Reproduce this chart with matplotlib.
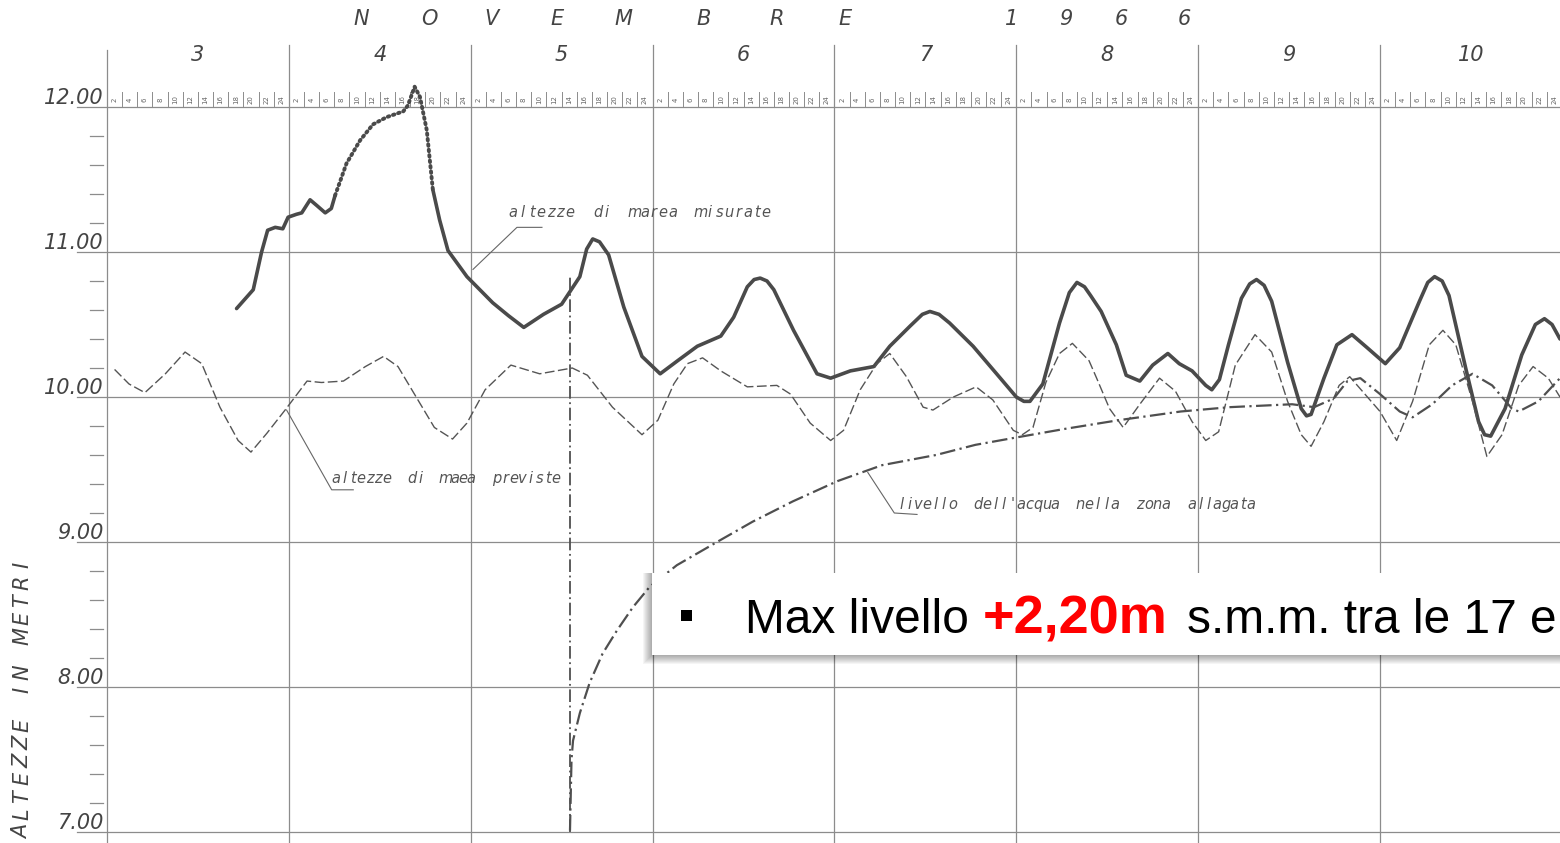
import numpy as np
import matplotlib.pyplot as plt
from matplotlib.patches import Rectangle

# asse x: ore a partire dalle 0 del 3 novembre 1966
days = [3, 4, 5, 6, 7, 8, 9, 10]
y_levels = [7, 8, 9, 10, 11, 12]
y_labels = ['7.00', '8.00', '9.00', '10.00', '11.00', '12.00']
month_letters = ['N', 'O', 'V', 'E', 'M', 'B', 'R', 'E', '1', '9', '6', '6']
month_pos = [33.6, 42.6, 50.8, 59.4, 68.1, 78.7, 88.4, 97.4, 119.4, 126.5, 133.9, 142.2]

# altezze di marea misurate
meas_hours = [17.1, 19.3, 20.4, 21.2, 22.2, 23.2, 23.9, 25.0, 25.7, 26.8, 27.7, 28.8, 29.6, 30.1,
              31.6, 33.4, 35.1, 36.9, 39.1, 39.7, 40.6, 41.3, 42.2, 43.0,
              43.9, 45.0, 47.5, 50.9, 53.0, 55.0, 57.6, 60.0, 62.4, 63.3, 64.1, 65.0, 66.2, 68.2, 70.6,
              73.0, 75.3, 77.9, 81.0, 82.7, 84.5, 85.4, 86.2, 87.1, 88.0, 90.6, 93.7, 95.5, 98.1, 101.2,
              103.3, 106.0, 107.6, 108.6, 109.8, 111.2, 114.3, 117.4, 120.0, 121.0, 121.8, 123.5, 125.7,
              127.0, 128.0, 129.0, 129.8, 131.2, 133.2, 134.5, 136.3, 138.0, 140.0, 141.5, 143.2, 145.0,
              145.8, 146.8, 148.0, 149.7, 150.8, 151.7, 152.7, 153.7, 155.8, 157.6, 158.3, 158.9, 160.6,
              162.3, 164.3, 166.3, 168.7, 170.6, 173.2, 174.3, 175.2, 176.2, 177.1, 179.3, 181.0, 181.8,
              182.6, 184.5, 186.7, 188.5, 189.7, 190.7, 191.75]
meas_level = [10.61, 10.74, 11.00, 11.15, 11.17, 11.16, 11.24, 11.26, 11.27, 11.36, 11.32, 11.27, 11.30, 11.39,
              11.61, 11.77, 11.88, 11.93, 11.97, 12.01, 12.14, 12.07, 11.84, 11.43,
              11.22, 11.01, 10.83, 10.65, 10.56, 10.48, 10.57, 10.64, 10.83, 11.02, 11.09, 11.07, 10.98, 10.62, 10.28,
              10.16, 10.25, 10.35, 10.42, 10.55, 10.76, 10.81, 10.82, 10.80, 10.74, 10.46, 10.16, 10.13, 10.18, 10.21,
              10.35, 10.49, 10.57, 10.59, 10.57, 10.51, 10.35, 10.16, 10.00, 9.97, 9.97, 10.09, 10.51,
              10.72, 10.79, 10.76, 10.70, 10.59, 10.36, 10.15, 10.11, 10.22, 10.30, 10.23, 10.18, 10.08,
              10.05, 10.12, 10.36, 10.68, 10.78, 10.81, 10.77, 10.66, 10.24, 9.92, 9.87, 9.88, 10.13,
              10.36, 10.43, 10.34, 10.23, 10.34, 10.66, 10.79, 10.83, 10.80, 10.70, 10.20, 9.83, 9.74,
              9.73, 9.92, 10.29, 10.50, 10.54, 10.50, 10.40]
dotted_from, dotted_to = 30.1, 43.0

# altezze di marea previste
pred_hours = [1.0, 2.9, 5.0, 7.7, 10.3, 12.5, 14.9, 17.3, 19.0, 21.1, 23.5, 26.4, 28.3, 31.2,
              34.1, 36.5, 38.4, 40.8, 43.2, 45.6, 47.5, 49.9, 53.3, 57.1, 61.4, 63.4, 66.7,
              70.6, 72.7, 74.8, 76.6, 78.6, 81.0, 84.5, 88.4, 90.2, 92.8, 95.5, 97.2, 99.4,
              101.6, 103.3, 105.5, 107.7, 109.0, 111.7, 114.7, 116.9, 119.6, 120.8, 122.2,
              123.9, 125.7, 127.4, 129.6, 130.6, 132.3, 134.1, 136.3, 138.9, 141.0, 143.2,
              145.0, 146.7, 148.9, 151.5, 153.7, 155.8, 157.6, 158.9, 160.6, 162.6, 164.0,
              168.0, 170.2, 172.3, 174.5, 176.3, 178.0, 180.2, 182.1, 184.1, 186.3, 188.2,
              190.2, 191.75]
pred_level = [10.19, 10.09, 10.03, 10.16, 10.31, 10.23, 9.93, 9.70, 9.62, 9.75, 9.91, 10.11, 10.10, 10.11,
              10.21, 10.28, 10.21, 10.00, 9.79, 9.71, 9.82, 10.05, 10.22, 10.16, 10.20, 10.15, 9.93,
              9.74, 9.84, 10.09, 10.23, 10.27, 10.18, 10.07, 10.08, 10.02, 9.82, 9.70, 9.77, 10.05,
              10.23, 10.30, 10.14, 9.93, 9.91, 10.00, 10.07, 9.98, 9.77, 9.74, 9.79,
              10.10, 10.30, 10.37, 10.25, 10.13, 9.92, 9.79, 9.95, 10.13, 10.04, 9.83,
              9.70, 9.76, 10.22, 10.43, 10.31, 9.97, 9.74, 9.66, 9.83, 10.08, 10.14,
              9.90, 9.70, 9.97, 10.36, 10.46, 10.36, 9.97, 9.59, 9.74, 10.08, 10.21,
              10.13, 10.00]

# livello dell'acqua nella zona allagata
flood_hours = [61.1, 61.3, 61.5, 62.4, 63.7, 65.4, 67.3, 69.4, 71.6, 75.2, 80.5, 85.2, 90.5,
               96.4, 102.3, 109.4, 114.6, 119.9, 126.4, 133.5, 141.7, 148.2, 156.4, 159.3,
               161.9, 163.7, 165.4, 168.0, 170.6, 172.3, 174.9, 177.5, 180.2, 182.8, 185.4,
               186.3, 188.9, 191.75]
flood_level = [7.01, 7.50, 7.63, 7.82, 8.03, 8.23, 8.39, 8.55, 8.69, 8.84, 9.00, 9.14, 9.28,
               9.42, 9.53, 9.60, 9.67, 9.72, 9.78, 9.84, 9.90, 9.93, 9.95, 9.93,
               9.99, 10.11, 10.13, 10.02, 9.90, 9.86, 9.95, 10.08, 10.16, 10.08, 9.92,
               9.90, 9.97, 10.13]
breach_hour = 61.1
breach_level = [7.0, 10.83]

W, H = 1560, 843
fig = plt.figure(figsize=(W / 100, H / 100), dpi=100)
ax = fig.add_axes([107 / W, 0, (W - 107) / W, (H - 107) / H])
ax.set_xlim(0, 191.75)
ax.set_ylim(7 - 11 / 145, 12)
ax.axis('off')

grid_c = '#8c8c8c'
ink = '#4a4a4a'
txt_c = '#555555'


def spaced(x, y, s, adv, **kw):
    # scritta a passo fisso, come nei caratteri a normografo
    for i, ch in enumerate(s):
        if ch != ' ':
            ax.annotate(ch, (x, y), xytext=(i * adv, 0), textcoords='offset points',
                        ha='center', va='center', annotation_clip=False, **kw)


# griglia orizzontale e tacche
for lev, lab in zip(y_levels, y_labels):
    ax.plot([-3.96, 191.75], [lev, lev], color=grid_c, lw=0.9, clip_on=False)
    ax.text(-0.5, lev + 0.065, lab, ha='right', va='center', fontsize=15,
            style='italic', color='#444444', clip_on=False)
for lev in np.arange(7.2, 12, 0.2):
    if abs(lev - round(lev)) > 0.05:
        ax.plot([-2.24, -0.5], [lev, lev], color=grid_c, lw=0.9, clip_on=False)

# griglia verticale dei giorni e intestazione
for i, d in enumerate(days):
    ax.plot([24 * i, 24 * i], [6.9, 12.43 if i else 12.39], color=grid_c, lw=0.9, clip_on=False)
    ax.text(24 * i + 12, 12.36, str(d), ha='center', va='center', fontsize=15,
            style='italic', color='#444444', clip_on=False)
    for k in range(1, 13):
        hx = 24 * i + 2 * k
        ax.plot([hx, hx], [12.0, 12.1], color=grid_c, lw=0.7, clip_on=False)
        ax.text(hx - 1, 12.05, str(2 * k), ha='center', va='center', fontsize=5,
                rotation=90, color='#666666', clip_on=False)

for ch, px in zip(month_letters, month_pos):
    ax.text(px, 12.61, ch, ha='center', va='center', fontsize=15, style='italic',
            color='#444444', clip_on=False)

# titolo asse y, lettera per lettera dal basso
for i, ch in enumerate('ALTEZZE IN METRI'):
    if ch != ' ':
        fig.text(22 / W, (H - 832 + i * 17.8) / H, ch, rotation=90, ha='center',
                 va='center', fontsize=15, style='italic', color='#444444')

# curve
mh = np.array(meas_hours)
ml = np.array(meas_level)
m1 = mh <= dotted_from
m2 = (mh >= dotted_from) & (mh <= dotted_to)
m3 = mh >= dotted_to
ax.plot(mh[m1], ml[m1], color=ink, lw=2.6, solid_capstyle='round', solid_joinstyle='round',
        clip_on=False)
ax.plot(mh[m2], ml[m2], color=ink, lw=2.8, linestyle=(0, (0.4, 1.0)),
        dash_capstyle='round', clip_on=False)
ax.plot(mh[m3], ml[m3], color=ink, lw=2.6, solid_capstyle='round', solid_joinstyle='round',
        clip_on=False)

ax.plot(pred_hours, pred_level, color='#555555', lw=1.0, linestyle=(0, (7, 2.5)))
ax.plot(flood_hours, flood_level, color='#4f4f4f', lw=1.6, linestyle=(0, (7, 2, 1, 2)))
ax.plot([breach_hour, breach_hour], breach_level, color='#4f4f4f', lw=1.3,
        linestyle=(0, (7, 2, 1, 2)))

# etichette con richiamo
lab_kw = dict(fontsize=10.5, style='italic', color=txt_c)
ax.plot([57.4, 54.1, 48.3], [11.17, 11.17, 10.88], color='#666666', lw=0.8)
spaced(53.6, 11.27, 'altezze  di  marea  misurate', 6.75, **lab_kw)
ax.plot([23.7, 29.65, 32.5], [9.91, 9.36, 9.36], color='#666666', lw=0.8)
spaced(30.2, 9.44, 'altezze  di  maea  previste', 6.1, **lab_kw)
ax.plot([100.4, 103.9, 106.9], [9.48, 9.20, 9.19], color='#666666', lw=0.8)
spaced(104.8, 9.26, "livello  dell'acqua  nella  zona  allagata", 6.15, **lab_kw)

# riquadro sovrapposto
bx0, by0, bh = 652 / W, 1 - 655 / H, 82 / H
for s in range(9, 0, -1):
    fig.patches.append(Rectangle((bx0 - s / W, by0 - s / H), 1.0, bh + s / H,
                                 transform=fig.transFigure, facecolor='black',
                                 alpha=0.04, edgecolor='none'))
fig.patches.append(Rectangle((bx0, by0), 1.0, bh, transform=fig.transFigure,
                             facecolor='white', edgecolor='none'))
fig.patches.append(Rectangle((681 / W, 1 - 621 / H), 11 / W, 11 / H, transform=fig.transFigure,
                             facecolor='black', edgecolor='none'))

base = 1 - 633 / H
fig.text(745 / W, base, 'Max livello', color='black', family='Liberation Sans',
         fontsize=34.5, va='baseline')
fig.text(983 / W, base, '+2,20m', color='#ff0000', weight='bold', family='Liberation Sans',
         fontsize=39, va='baseline')
fig.text(1187 / W, base, 's.m.m. tra le 17 e', color='black', family='Liberation Sans',
         fontsize=34.5, va='baseline')

fig.savefig('out.png', dpi=100, facecolor='white')
